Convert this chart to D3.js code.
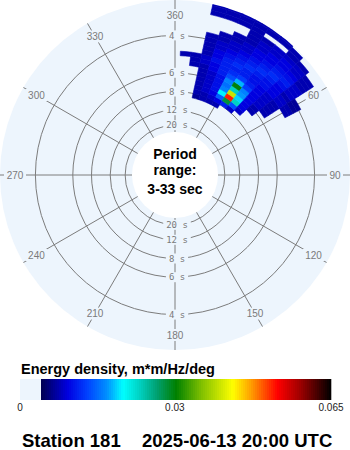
<!DOCTYPE html>
<html>
<head>
<meta charset="utf-8">
<script src="https://cdn.jsdelivr.net/npm/d3@7"></script>
<style>
  body { margin: 0; background: #fff; }
  svg { display: block; font-family: "Liberation Sans", Arial, sans-serif; }
</style>
</head>
<body>
<div id="chart"></div>
<script>
// Spectrum cells: wave direction (deg, from) x frequency (Hz)
const directions = [5, 10, 15, 20, 25, 30, 35, 40, 45, 50, 55, 60];
const frequencies = [0.12, 0.13, 0.14, 0.15, 0.16, 0.17, 0.18, 0.19, 0.20, 0.21, 0.22,
                     0.23, 0.24, 0.25, 0.26, 0.27, 0.28, 0.29, 0.30, 0.31, 0.32, 0.33];
// Energy density in 0.001 m*m/Hz/deg, one row per frequency, one column per direction
const energy = [
  [0, 0, 3, 4, 4, 4, 0, 0, 0, 0, 0, 0],
  [0, 0, 4, 4, 5, 6, 8, 5, 0, 0, 0, 0],
  [0, 0, 4, 5, 6, 12, 28, 11, 5, 0, 0, 0],
  [0, 0, 4, 5, 7, 18, 52, 22, 6, 0, 0, 0],
  [0, 0, 4, 5, 7, 14, 40, 17, 6, 4, 0, 0],
  [0, 0, 4, 5, 7, 13, 22, 15, 6, 4, 0, 0],
  [0, 0, 4, 5, 7, 14, 30, 14, 6, 5, 4, 0],
  [0, 4, 4, 6, 8, 11, 16, 10, 6, 5, 4, 0],
  [0, 4, 5, 6, 8, 9, 10, 8, 6, 5, 4, 0],
  [4, 4, 5, 7, 8, 8, 8, 7, 6, 5, 4, 0],
  [0, 0, 4, 6, 8, 9, 8, 7, 7, 6, 5, 4],
  [0, 0, 4, 6, 7, 8, 9, 8, 7, 6, 5, 4],
  [0, 0, 4, 5, 6, 7, 8, 9, 8, 6, 4, 3],
  [0, 0, 4, 5, 5, 6, 7, 8, 9, 7, 5, 3],
  [0, 0, 4, 4, 5, 5, 6, 7, 8, 8, 5, 0],
  [0, 0, 0, 4, 4, 5, 6, 6, 7, 7, 5, 0],
  [0, 0, 0, 0, 4, 4, 5, 6, 6, 6, 4, 0],
  [0, 0, 0, 0, 0, 4, 5, 5, 6, 5, 4, 0],
  [0, 0, 0, 0, 0, 4, 4, 5, 5, 5, 4, 0],
  [0, 0, 4, 4, 4, 4, 0, 0, 4, 4, 0, 0],
  [0, 0, 4, 4, 4, 4, 4, 4, 4, 0, 0, 0],
  [0, 0, 4, 4, 4, 4, 4, 4, 0, 0, 0, 0]
];

const periodRings = [4, 6, 8, 12, 20];
const periodRange = [3, 33];
const compassAngles = [0, 30, 60, 90, 120, 150, 180, 210, 240, 270, 300, 330];
const compassLabels = ["360", "30", "60", "90", "120", "150", "180", "210", "240", "270", "300", "330"];
const legendTicks = [0, 0.03, 0.065];
const legendMax = 0.065;
const colorDomain = [0, 0.006, 0.0103, 0.0148, 0.0184, 0.0222, 0.026, 0.0303, 0.036, 0.043, 0.047, 0.053, 0.058, 0.065];
const colorRange = ["#000050", "#0000e0", "#0040ff", "#0090ff", "#00ffff", "#00d0c0", "#00a070",
                    "#008000", "#80c000", "#ffff00", "#ffa000", "#ff0000", "#a00000", "#000000"];

const width = 350, height = 450;
const cx = 175, cy = 175, discR = 175, holeR = 43;
const discFill = "#edf5fd", gridColor = "#7c7c7c";

const svg = d3.select("#chart")
    .append("svg")
    .attr("width", width)
    .attr("height", height);

// radius grows with frequency: 33 s near the centre, 3 s at the rim
const r = d3.scaleLinear()
    .domain([1 / periodRange[1], 1 / periodRange[0]])
    .range([41, 177]);

const color = d3.scaleLinear()
    .domain(colorDomain)
    .range(colorRange)
    .clamp(true);

const rad = d => d * Math.PI / 180;

const g = svg.append("g").attr("transform", `translate(${cx},${cy})`);

g.append("clipPath").attr("id", "disc-clip")
    .append("circle").attr("r", discR);

g.append("circle")
    .attr("r", discR)
    .attr("fill", discFill);

// Period rings
g.selectAll(".ring")
    .data(periodRings)
    .enter()
    .append("circle")
    .attr("r", d => r(1 / d))
    .attr("fill", "none")
    .attr("stroke", gridColor)
    .attr("stroke-width", 1);

// Direction spokes
g.selectAll(".spoke")
    .data(compassAngles)
    .enter()
    .append("line")
    .attr("x1", d => holeR * Math.sin(rad(d)))
    .attr("y1", d => -holeR * Math.cos(rad(d)))
    .attr("x2", d => discR * Math.sin(rad(d)))
    .attr("y2", d => -discR * Math.cos(rad(d)))
    .attr("stroke", gridColor)
    .attr("stroke-width", 1);

// Direction labels with a masking box
const labR = 160;
const compass = g.selectAll(".compass")
    .data(compassAngles)
    .enter()
    .append("g")
    .attr("transform", d => `translate(${labR * Math.sin(rad(d))},${-labR * Math.cos(rad(d))})`);

compass.append("rect")
    .attr("x", (d, i) => -compassLabels[i].length * 3 - 2)
    .attr("y", -6)
    .attr("width", (d, i) => compassLabels[i].length * 6 + 4)
    .attr("height", 12)
    .attr("fill", discFill);

compass.append("text")
    .attr("text-anchor", "middle")
    .attr("dy", "0.35em")
    .attr("fill", "#7a7a7a")
    .style("font-size", "10px")
    .text((d, i) => compassLabels[i]);

// Period labels above and below the centre
const ringLabels = g.selectAll(".ringlab")
    .data(periodRings.flatMap(p => [{ p, s: -1 }, { p, s: 1 }]))
    .enter()
    .append("g")
    .attr("transform", d => `translate(2,${d.s * r(1 / d.p)})`);

ringLabels.append("rect")
    .attr("x", d => -(`${d.p} s`.length * 5.4) / 2 - 3)
    .attr("y", -5)
    .attr("width", d => `${d.p} s`.length * 5.4 + 6)
    .attr("height", 10)
    .attr("fill", discFill);

ringLabels.append("text")
    .attr("text-anchor", "middle")
    .attr("dy", "0.35em")
    .attr("fill", "#7a7a7a")
    .style("font-family", "'DejaVu Sans Mono', monospace")
    .style("font-size", "9px")
    .text(d => `${d.p} s`);

// Spectrum cells
const cells = [];
frequencies.forEach((f, i) => {
    directions.forEach((dir, j) => {
        const v = energy[i][j] * 0.001;
        if (v > 0) cells.push({ f, dir, v });
    });
});

const arc = d3.arc()
    .innerRadius(d => r(d.f - 0.005))
    .outerRadius(d => r(d.f + 0.005))
    .startAngle(d => rad(d.dir - 2.5))
    .endAngle(d => rad(d.dir + 2.5));

g.append("g")
    .attr("clip-path", "url(#disc-clip)")
    .selectAll("path")
    .data(cells)
    .enter()
    .append("path")
    .attr("d", arc)
    .attr("fill", d => color(d.v))
    .attr("stroke", d => color(d.v))
    .attr("stroke-width", 0.6);

// Centre hole and caption
g.append("circle")
    .attr("r", holeR)
    .attr("fill", "#fff");

const centreText = g.append("text")
    .attr("text-anchor", "middle")
    .attr("fill", "#000")
    .style("font-size", "14px")
    .style("font-weight", "bold");
centreText.append("tspan").attr("x", 0).attr("y", -16).text("Period");
centreText.append("tspan").attr("x", 0).attr("y", 0).text("range:");
centreText.append("tspan").attr("x", 0).attr("y", 19).text(`${periodRange[0]}-${periodRange[1]} sec`);

// Legend
const barLeft = 20, barZero = 41, barRight = 331, barTop = 379, barH = 21;
const lx = d3.scaleLinear().domain([0, legendMax]).range([barZero, barRight]);

svg.append("text")
    .attr("x", 21)
    .attr("y", 374)
    .style("font-size", "14.5px")
    .style("font-weight", "bold")
    .attr("fill", "#000")
    .text("Energy density, m*m/Hz/deg");

svg.append("rect")
    .attr("x", barLeft)
    .attr("y", barTop)
    .attr("width", barZero - barLeft)
    .attr("height", barH)
    .attr("fill", discFill);

const steps = d3.range(barZero, barRight, 2);
svg.append("g")
    .selectAll("rect")
    .data(steps)
    .enter()
    .append("rect")
    .attr("x", d => d)
    .attr("y", barTop)
    .attr("width", 2.3)
    .attr("height", barH)
    .attr("fill", d => color(lx.invert(d + 1)));

svg.append("g")
    .selectAll("text")
    .data(legendTicks)
    .enter()
    .append("text")
    .attr("x", d => d === 0 ? barLeft : lx(d))
    .attr("y", 411)
    .attr("text-anchor", "middle")
    .style("font-size", "10px")
    .attr("fill", "#222")
    .text(d => d);

// Footer
svg.append("text")
    .attr("x", 22)
    .attr("y", 447)
    .style("font-size", "18.5px")
    .style("font-weight", "bold")
    .attr("fill", "#000")
    .text("Station 181");

svg.append("text")
    .attr("x", 142)
    .attr("y", 447)
    .style("font-size", "18.5px")
    .style("font-weight", "bold")
    .attr("fill", "#000")
    .text("2025-06-13 20:00 UTC");
</script>
</body>
</html>
